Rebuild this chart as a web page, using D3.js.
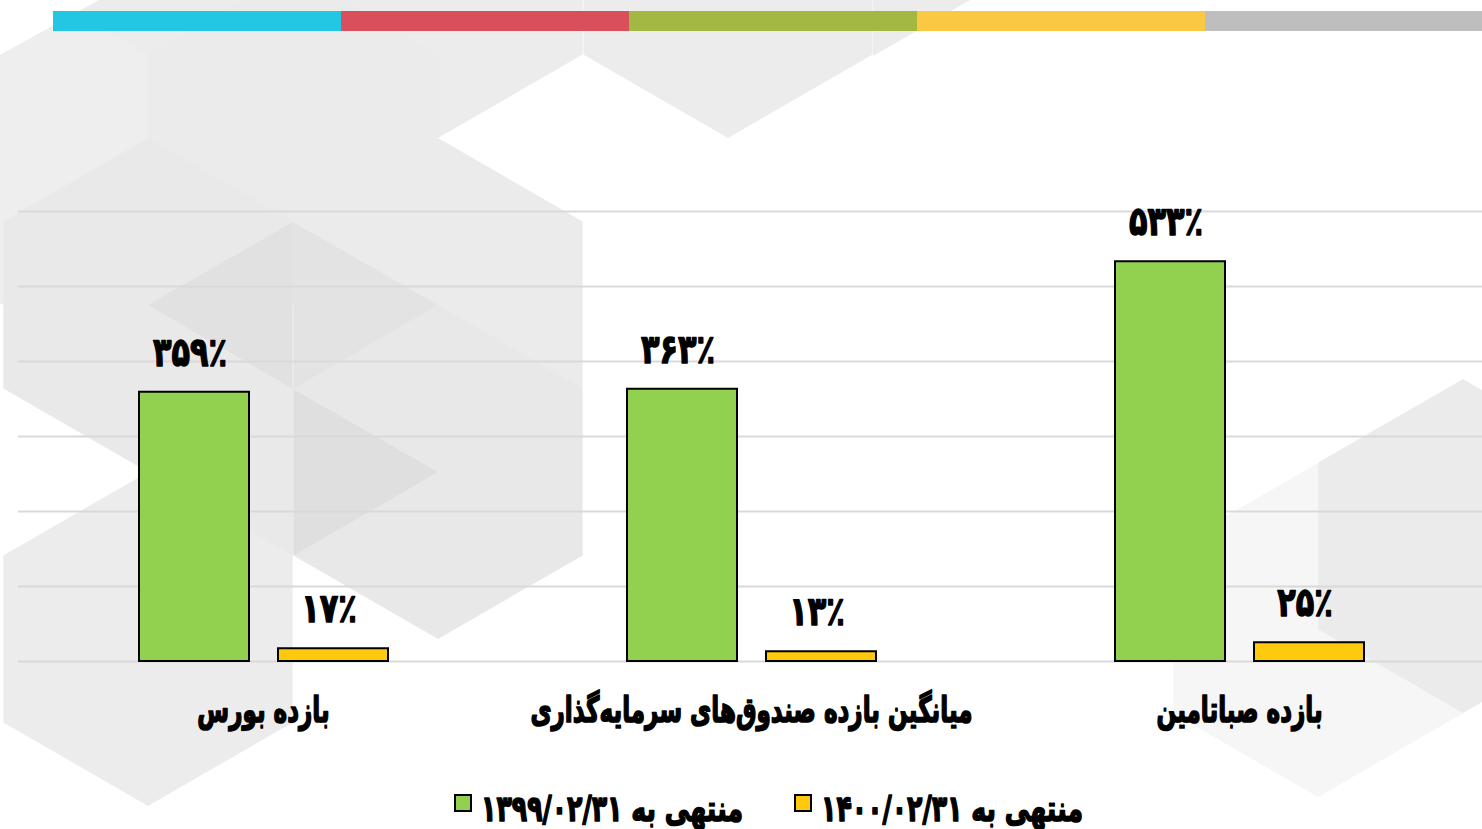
<!DOCTYPE html>
<html>
<head>
<meta charset="utf-8">
<script src="https://cdn.jsdelivr.net/npm/d3@7"></script>
<style>
  body { margin: 0; background: #fff; }
  svg { display: block; }
</style>
</head>
<body>
<div class="chart"></div>
<script>
(function(){

// chart data
var categories = ["بازده بورس", "میانگین بازده صندوق‌های سرمایه‌گذاری", "بازده صباتامین"];
var seriesNames = ["منتهی به ۱۳۹۹/۰۲/۳۱", "منتهی به ۱۴۰۰/۰۲/۳۱"];
var values1399 = [359, 363, 533];
var values1400 = [17, 13, 25];
var yTicks = [0, 100, 200, 300, 400, 500, 600];

var seriesColors = ["#92d050", "#ffc90e"];
var stripeColors = ["#23c6e3", "#d94f5c", "#a3b842", "#fbc843", "#bebebe"];

var width = 1482,
    height = 829;

var faFont = "'DejaVu Sans', sans-serif";

var svg = d3.select(".chart")
    .append("svg")
    .attr("width", width)
    .attr("height", height);

// background hexagon pattern (decoration only)
var R = 167;
var hexes = [
    [148, -29, "#ececec"], [438, -29, "#ececec"], [728, -29, "#ececec"],
    [3, 138, "#eeeeee"], [293, 138, "#ebebeb"],
    [148, 305, "#e9e9e9"], [438, 305, "#ebebeb"],
    [438, 472, "#e8e8e8"],
    [148, 639, "#ececec"],
    [1318, 630, "#f6f6f6"], [1463, 546, "#ebebeb"]
];
function hexPoints(cx, cy, r){
    return d3.range(6).map(function(i){
        var a = (-90 + 60 * i) * Math.PI / 180;
        return [cx + r * Math.cos(a), cy + r * Math.sin(a)];
    });
}
var bg = svg.append("g").attr("class", "bg");
bg.selectAll("polygon.hex")
    .data(hexes)
    .enter()
    .append("polygon")
    .attr("class", "hex")
    .attr("points", function(d){ return hexPoints(d[0], d[1], R).join(" "); })
    .attr("fill", function(d){ return d[2]; });
// filler pieces and darker facets
bg.append("polygon")
    .attr("points", [[148, 472], [293, 388], [293, 556]].join(" "))
    .attr("fill", "#e9e9e9");
bg.append("polygon")
    .attr("points", [[873, 0], [970, 0], [873, 56]].join(" "))
    .attr("fill", "#ececec");
bg.append("polygon")
    .attr("points", [[293, 389], [438, 472], [293, 556]].join(" "))
    .attr("fill", "#000").attr("opacity", 0.035);
bg.append("polygon")
    .attr("points", [[148, 305], [293, 222], [438, 305], [293, 389]].join(" "))
    .attr("fill", "#000").attr("opacity", 0.03);
bg.append("polygon")
    .attr("points", [[0, 0], [99, 0], [0, 55]].join(" "))
    .attr("fill", "#fff");

// top colour stripe
var stripeX = d3.scaleBand()
    .domain(d3.range(stripeColors.length))
    .range([53, 1493]);
svg.append("g").selectAll("rect")
    .data(stripeColors)
    .enter()
    .append("rect")
    .attr("x", function(d, i){ return stripeX(i); })
    .attr("y", 11)
    .attr("width", stripeX.bandwidth() + 0.5)
    .attr("height", 20)
    .attr("fill", function(d){ return d; });

// scales
var x0 = d3.scaleBand()
    .domain(categories)
    .range([19.5, 1483.5]);

var x1 = d3.scaleBand()
    .domain([0, 1])
    .range([119.5, 368.5])
    .paddingInner(0.2086);

var y = d3.scaleLinear()
    .domain([0, 600])
    .range([661, 211]);

// gridlines
var grid = svg.append("g")
    .attr("transform", "translate(18,0)")
    .call(d3.axisLeft(y).tickValues(yTicks).tickSize(-1464).tickFormat(""));
grid.select(".domain").remove();
grid.selectAll(".tick line")
    .attr("stroke", "#d9d9d9")
    .attr("stroke-width", 2);

var rows = categories.map(function(c, i){
    return { cat: c, vals: [values1399[i], values1400[i]] };
});

function toFa(n){
    return String(n).replace(/[0-9]/g, function(ch){ return "۰۱۲۳۴۵۶۷۸۹"[+ch]; });
}

// heavy narrow text, like the original titling font
function heavy(sel, size, stroke){
    sel.style("font-family", faFont)
        .style("font-weight", "bold")
        .style("font-size", size + "px")
        .attr("fill", "#000")
        .attr("stroke", "#000")
        .attr("stroke-width", stroke)
        .attr("stroke-linejoin", "round");
}

var groups = svg.append("g").selectAll("g")
    .data(rows)
    .enter()
    .append("g")
    .attr("transform", function(d){ return "translate(" + x0(d.cat) + ",0)"; });

groups.selectAll("rect")
    .data(function(d){ return d.vals; })
    .enter()
    .append("rect")
    .attr("x", function(d, i){ return x1(i); })
    .attr("y", function(d){ return y(d); })
    .attr("width", x1.bandwidth())
    .attr("height", function(d){ return y(0) - y(d); })
    .attr("fill", function(d, i){ return seriesColors[i]; })
    .attr("stroke", "#000")
    .attr("stroke-width", 2);

// value labels
groups.selectAll("text.val")
    .data(function(d){ return d.vals; })
    .enter()
    .append("text")
    .attr("class", "val")
    .attr("transform", function(d, i){
        return "translate(" + (x1(i) + x1.bandwidth() / 2 - 4) + "," + (y(d) - 26) + ") scale(0.76,1)";
    })
    .attr("text-anchor", "middle")
    .call(heavy, 40, 1.4)
    .text(function(d){ return toFa(d) + "٪"; });

// category labels
svg.append("g").selectAll("text")
    .data(categories)
    .enter()
    .append("text")
    .attr("transform", function(d){
        return "translate(" + (x0(d) + x0.bandwidth() / 2) + ",722) scale(0.65,1)";
    })
    .attr("text-anchor", "middle")
    .attr("direction", "rtl")
    .call(heavy, 35.5, 1.7)
    .text(function(d){ return d; });

// legend
var legendX = [455, 795];
var legend = svg.append("g").selectAll("g")
    .data(seriesNames)
    .enter()
    .append("g")
    .attr("transform", function(d, i){ return "translate(" + legendX[i] + ",795)"; });

legend.append("rect")
    .attr("width", 16)
    .attr("height", 16)
    .attr("fill", function(d, i){ return seriesColors[i]; })
    .attr("stroke", "#000")
    .attr("stroke-width", 2);

legend.append("text")
    .attr("direction", "rtl")
    .attr("text-anchor", "middle")
    .call(heavy, 36, 1.6)
    .text(function(d){ return d; })
    .attr("transform", function(){
        var w = this.getComputedTextLength() * 0.7;
        return "translate(" + (26 + w / 2) + ",26) scale(0.7,1)";
    });

})();
</script>
</body>
</html>
